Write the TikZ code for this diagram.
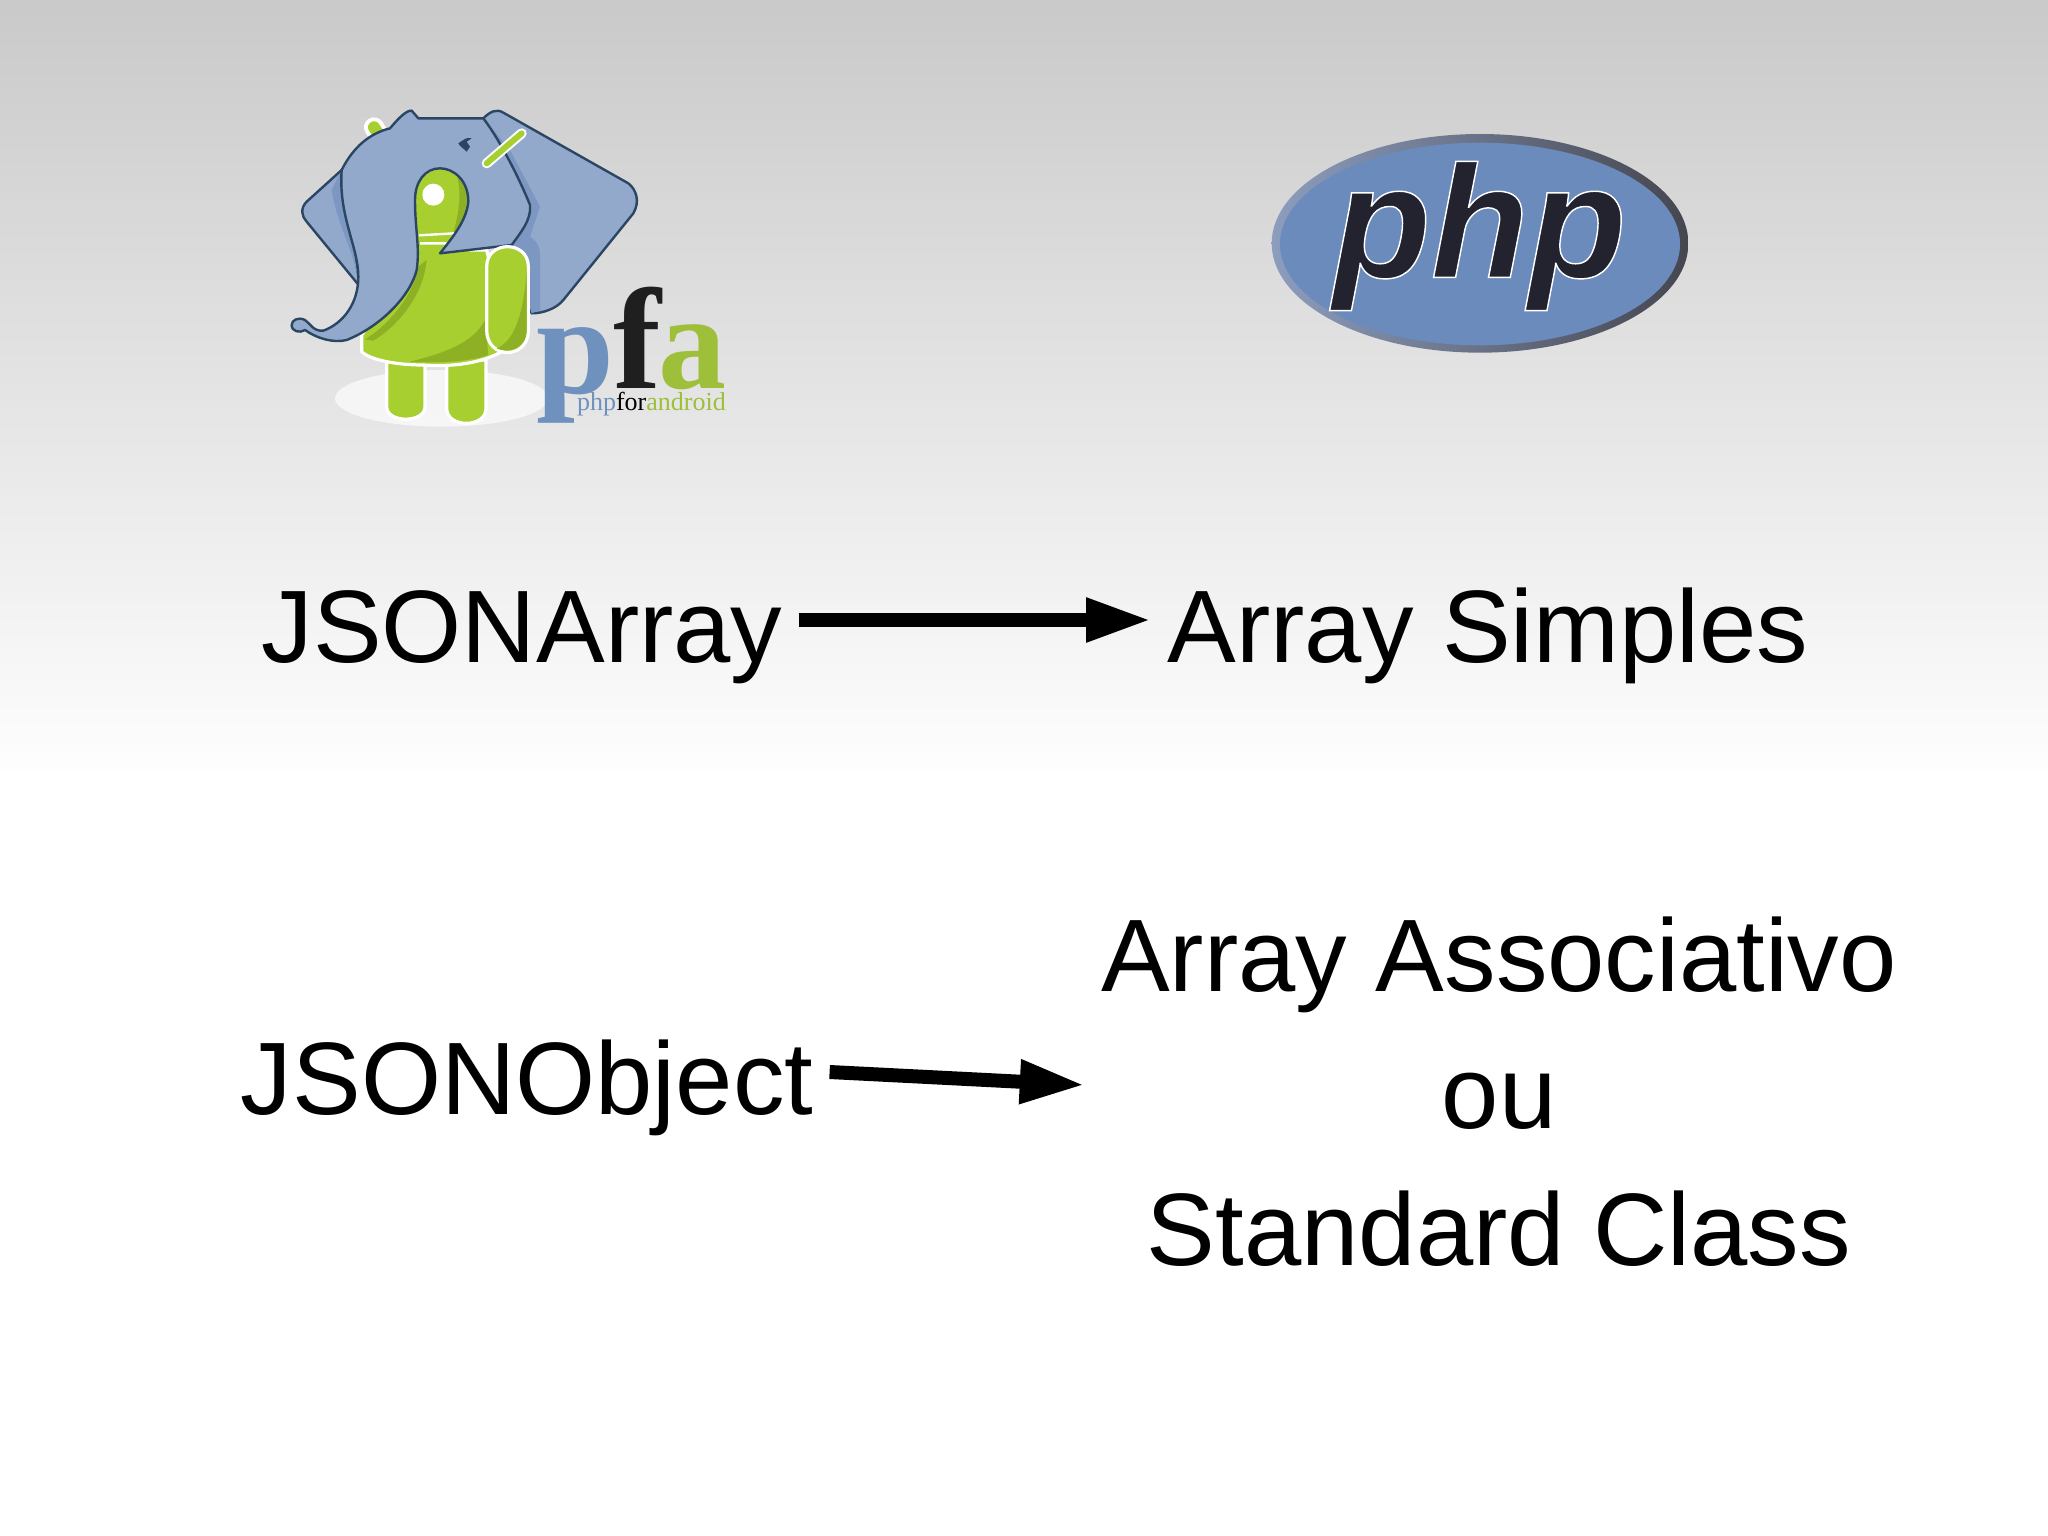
\documentclass[tikz,border=0pt]{standalone}
\usepackage{fontspec}
\setmainfont{Liberation Sans}
\newfontfamily\serifbold{Liberation Serif}[Ligatures=NoCommon]
\newfontfamily\phpbold{Liberation Sans}[BoldItalicFeatures={FakeBold=0.9}]
\usetikzlibrary{arrows.meta,positioning,calc}
\newcommand{\setfs}[1]{\fontsize{#1}{#1}\selectfont}
\definecolor{elblue}{HTML}{93A9CB}
\definecolor{elshade}{HTML}{7C97C2}
\definecolor{eldark}{HTML}{2A4663}
\definecolor{droid}{HTML}{A6CF2F}
\definecolor{droiddark}{HTML}{8DB024}
\definecolor{pfablue}{HTML}{6F91BD}
\definecolor{pfagreen}{HTML}{9DBF3A}
\definecolor{phpblue}{HTML}{6B8BBD}
\definecolor{phpdark}{HTML}{22232E}
\definecolor{ringlight}{HTML}{8C9DBE}
\definecolor{ringdark}{HTML}{45464F}
\tikzset{
  bigtext/.style={font=\setfs{51.5}, text=black, inner xsep=8pt, inner ysep=0pt},
  bigarrow/.style={line width=7pt, -{Triangle[length=32.5pt,width=20.5pt]}, black},
  earline/.style={draw=eldark, line width=1.2pt, line join=round, fill=elblue},
  droidpart/.style={draw=white, line width=1.6pt, fill=droid, line join=round},
  logoletter/.style={inner sep=0pt, anchor=base west},
}
\begin{document}
\begin{tikzpicture}[x=0.5pt,y=-0.5pt]
\useasboundingbox (0,0) rectangle (2048,1535);
\fill[white] (0,0) rectangle (2048,1535);
\shade[top color=black!21, bottom color=black!0.5] (0,0) rectangle (2048,770);

% ---- pfa logo, in the coordinates of a 3x crop
\begin{scope}[shift={(270,90)},x=0.16667pt,y=-0.16667pt]
  \fill[white,opacity=.65] (515,925) ellipse [x radius=320, y radius=85];
  % ears
  \path[earline] (215,240) -- (110,335) .. controls (90,355) and (95,380) .. (110,395) -- (270,590) -- cycle;
  \fill[elshade] (215,240) -- (185,300) .. controls (200,400) and (250,480) .. (265,570) -- cycle;
  \path[earline] (640,85) .. controls (660,65) and (680,55) .. (700,68) -- (1075,280) .. controls (1100,300) and (1110,335) .. (1090,370) -- (880,630) .. controls (860,655) and (820,670) .. (785,670) -- (700,400) -- cycle;
  \fill[elshade] (640,85) -- (720,180) -- (810,350) -- (780,440) .. controls (810,460) and (810,480) .. (810,500) -- (810,660) -- (785,670) -- (720,460) -- (780,345) -- cycle;
  % antennas
  \draw[line width=10pt,white,line cap=round] (312,112) -- (325,132);
  \draw[line width=6pt,droid,line cap=round] (312,112) -- (325,132);
  % legs
  \path[droidpart] (350,810) -- (350,950) .. controls (350,1000) and (465,1000) .. (465,950) -- (465,810) -- cycle;
  \path[droidpart] (530,810) -- (530,955) .. controls (530,1015) and (648,1015) .. (648,955) -- (648,810) -- cycle;
  % body
  \path[droidpart] (275,735) -- (430,500) -- (430,330) .. controls (430,200) and (600,200) .. (600,330) -- (600,480) -- (650,480) -- (720,770) .. controls (640,825) and (540,830) .. (460,825) .. controls (380,825) and (300,810) .. (275,785) -- cycle;
  \fill[droiddark] (645,690) -- (655,795) .. controls (600,815) and (500,820) .. (420,815) .. controls (520,790) and (610,760) .. (645,690) -- cycle;
  \fill[droiddark] (445,530) .. controls (430,620) and (350,710) .. (285,748) -- (310,752) .. controls (380,710) and (460,620) .. (470,510) -- cycle;
  \fill[droiddark] (560,255) .. controls (600,290) and (600,360) .. (585,390) -- (540,460) .. controls (560,400) and (580,320) .. (560,255) -- cycle;
  \draw[white,line width=1.2pt] (447,436) -- (552,430) (450,460) -- (530,460);
  \fill[white] (490,314) circle [radius=33];
  % head and trunk
  \path[earline] (215,240) .. controls (250,170) and (300,130) .. (360,115)
    .. controls (385,85) and (410,60) .. (425,62) -- (445,85) -- (640,85)
    .. controls (690,150) and (750,270) .. (780,345)
    .. controls (785,390) and (750,430) .. (725,465) -- (510,490)
    .. controls (550,440) and (590,390) .. (595,335)
    .. controls (595,270) and (550,235) .. (510,235)
    .. controls (465,235) and (435,275) .. (435,330)
    .. controls (435,420) and (450,470) .. (440,540)
    .. controls (420,620) and (330,710) .. (230,750)
    .. controls (190,760) and (140,745) .. (105,720)
    .. controls (90,730) and (65,725) .. (65,705)
    .. controls (65,690) and (85,680) .. (105,690)
    .. controls (120,700) and (130,725) .. (160,722)
    .. controls (220,700) and (265,640) .. (265,560)
    .. controls (265,470) and (205,380) .. (215,240) -- cycle;
  % eye
  \fill[eldark] (565,160) .. controls (580,150) and (590,140) .. (605,145) -- (590,155) -- (600,170) -- (590,185) .. controls (580,175) and (570,170) .. (565,160) -- cycle;
  % forehead antenna
  \draw[line width=5pt,white,line cap=round] (650,220) -- (755,130);
  \draw[line width=3pt,droid,line cap=round] (650,220) -- (755,130);
  % arm
  \path[droidpart] (650,530) .. controls (650,450) and (775,450) .. (775,530) -- (775,720) .. controls (775,810) and (650,810) .. (650,720) -- cycle;
  \fill[droiddark] (770,540) -- (770,720) .. controls (770,780) and (710,790) .. (680,775) .. controls (720,760) and (760,700) .. (770,540) -- cycle;
  % letters
  \node[logoletter,text=pfablue,font=\serifbold\bfseries\setfs{70}] (pfap) at (798,910) {p};
  \node[logoletter,text=black!88,font=\serifbold\bfseries\setfs{72}] (pfaf) at (1030,895) {f};
  \node[logoletter,text=pfagreen,font=\serifbold\bfseries\setfs{68}] (pfaa) at (1165,895) {a};
  \node[logoletter,font=\serifbold\setfs{13}] (pfaname) at (920,960) {\textcolor{pfablue}{php}\textcolor{black}{for}\textcolor{pfagreen}{android}};
\end{scope}

% ---- php logo
\begin{scope}[shift={(1240,110)},x=0.16667pt,y=-0.16667pt]
  \path[left color=ringlight, right color=ringdark] (720,400) ellipse [x radius=625, y radius=328];
  \fill[phpblue] (720,402) ellipse [x radius=600, y radius=304];
  \node[logoletter,font=\phpbold\bfseries\itshape\setfs{80}] (phptext) at (278,502)
     {\textcolor{phpdark}{\special{pdf:code 1 1 1 RG}php}};
\end{scope}

% ---- labels
\node[bigtext,anchor=base] (jarr) at (522,662) {JSONArray};
\node[bigtext,anchor=base] (asimple) at (1488,662) {Array Simples};
\node[bigtext,anchor=base] (jobj) at (527,1114) {JSONObject};
\node[bigtext,align=center,anchor=center,font=\fontsize{51.5}{68.5}\selectfont] (assoc) at (1499,1092)
  {Array Associativo\\ou\\Standard Class};

% ---- connectors
\draw[bigarrow] ($(jarr.base east)+(0,-42)$) -- ($(asimple.base west)+(0,-42)$);
\draw[bigarrow] ($(jobj.base east)+(0,-42)$) -- ([yshift=3.5pt]assoc.west);
\end{tikzpicture}
\end{document}
